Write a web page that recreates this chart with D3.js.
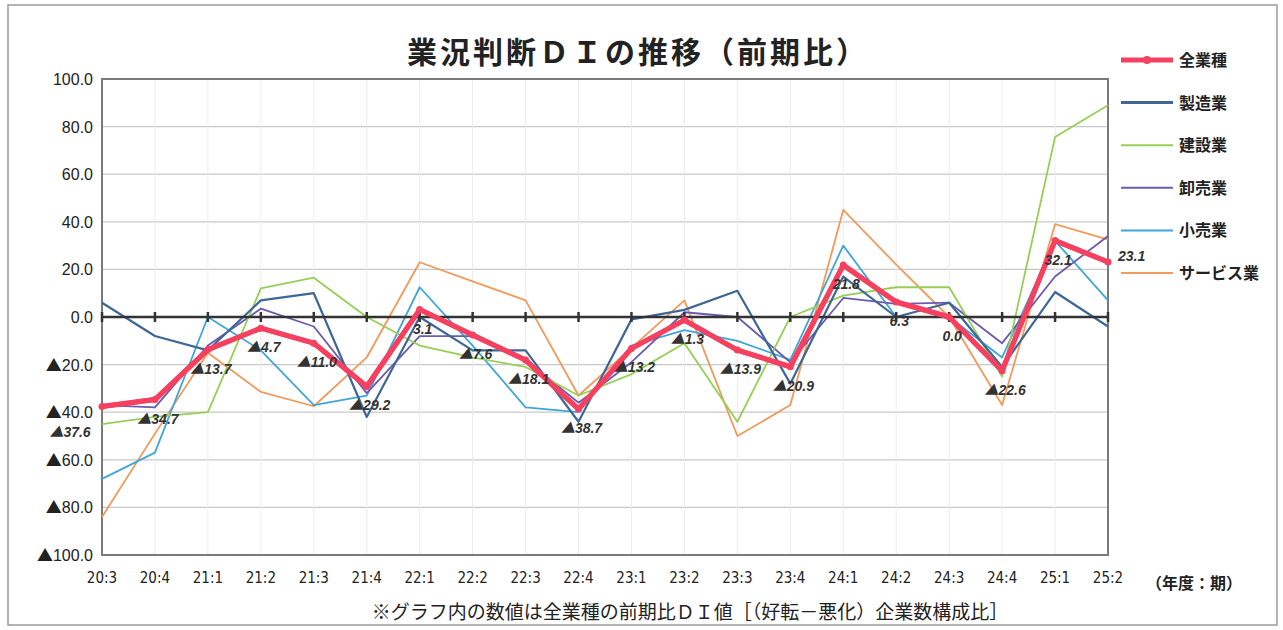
<!DOCTYPE html>
<html>
<head>
<meta charset="utf-8">
<script src="https://cdn.jsdelivr.net/npm/d3@7"></script>
<style>
  body { margin: 0; background: #fff; }
  svg { display: block; font-family: "Noto Sans CJK JP", "Noto Sans", sans-serif; }
</style>
</head>
<body>
<div id="chart"></div>
<script>
// quarters (年度:期)
const periods = ["20:3","20:4","21:1","21:2","21:3","21:4","22:1","22:2","22:3","22:4",
                 "23:1","23:2","23:3","23:4","24:1","24:2","24:3","24:4","25:1","25:2"];

const allInd   = [-37.6,-34.7,-13.7,-4.7,-11.0,-29.2,3.1,-7.6,-18.1,-38.7,-13.2,-1.3,-13.9,-20.9,21.8,6.3,0.0,-22.6,32.1,23.1];
const mfg      = [6,-8,-14,7,10,-42,0,-14,-14,-44,-1,3,11,-28,17,0,6,-21,10.5,-4];
const constr   = [-45,-42,-40,12,16.5,0,-12,-17,-21,-33,-24,-11,-44,0,9,12.5,12.5,-25,75.6,89];
const wholesale= [-37,-38,-12,3.5,-4,-32,-8,-8,-18,-36,-19,2,0,-19,8,5.5,6,-11,17,34];
const retail   = [-68,-57,0,-14,-37,-33,12.5,-12,-38,-40,-12,-5.5,-10,-18,30,0,0,-17,32,7];
const service  = [-84,-49,-15,-31.5,-37.5,-17,23,15,7,-33,-13,7,-50,-37,45,22,0,-37,39,32.5];

const yTicks = [100,80,60,40,20,0,-20,-40,-60,-80,-100];

const seriesNames = ["全業種","製造業","建設業","卸売業","小売業","サービス業"];
const seriesData  = [allInd, mfg, constr, wholesale, retail, service];
const seriesColors= ["#f5405f","#3f6796","#96cf56","#6b5aad","#3fa6d9","#f19a5c"];
const seriesWidth = [5, 2.2, 1.8, 1.8, 1.8, 1.8];

const W = 1283, H = 630;
const margin = {left: 102, right: 175, top: 79, bottom: 75};

const svg = d3.select('#chart').append('svg')
              .attr('width', W)
              .attr('height', H);

// outer frame
svg.append('rect')
   .attr('x', 8).attr('y', 5)
   .attr('width', W - 14).attr('height', H - 10)
   .attr('fill', 'none')
   .attr('stroke', '#9a9a9a')
   .attr('stroke-width', 1.5);

const x = d3.scalePoint().domain(periods).range([margin.left, W - margin.right]);
const y = d3.scaleLinear().domain([-100, 100]).range([H - margin.bottom, margin.top]);

const num = v => d3.format('.1f')(Math.abs(v));
// negative values are written with a big triangle in front
function putValue(sel, v) {
  if (v < 0) {
    sel.append('tspan')
       .attr('font-family', '"Noto Sans CJK JP", sans-serif')
       .text('▲');
  }
  sel.append('tspan').text(num(v));
}

// title
svg.append('text')
   .attr('x', 638).attr('y', 63)
   .attr('text-anchor', 'middle')
   .attr('font-size', 30)
   .attr('letter-spacing', 3)
   .attr('font-weight', 'bold')
   .attr('fill', '#222')
   .text('業況判断ＤＩの推移（前期比）');

// horizontal grid
svg.append('g')
   .selectAll('line')
   .data(yTicks.filter(d => d !== 0))
   .join('line')
   .attr('x1', margin.left).attr('x2', W - margin.right)
   .attr('y1', d => y(d)).attr('y2', d => y(d))
   .attr('stroke', '#c8c8c8')
   .attr('stroke-width', 1.3);

// vertical grid
svg.append('g')
   .selectAll('line')
   .data(periods)
   .join('line')
   .attr('x1', d => x(d)).attr('x2', d => x(d))
   .attr('y1', margin.top).attr('y2', H - margin.bottom)
   .attr('stroke', '#ececec')
   .attr('stroke-width', 1);

// plot border
svg.append('rect')
   .attr('x', margin.left).attr('y', margin.top)
   .attr('width', W - margin.right - margin.left)
   .attr('height', H - margin.bottom - margin.top)
   .attr('fill', 'none')
   .attr('stroke', '#7a7a7a')
   .attr('stroke-width', 2);

// y axis labels
svg.append('g')
   .selectAll('text')
   .data(yTicks)
   .join('text')
   .attr('x', 93)
   .attr('y', d => y(d) + 6)
   .attr('text-anchor', 'end')
   .attr('font-size', 16)
   .attr('font-family', '"Liberation Sans", Arial, sans-serif')
   .attr('fill', '#222')
   .each(function(d) { putValue(d3.select(this), d); });

// x axis labels
svg.append('g')
   .selectAll('text')
   .data(periods)
   .join('text')
   .attr('x', d => x(d))
   .attr('y', 583)
   .attr('text-anchor', 'middle')
   .attr('font-size', 15)
   .attr('font-family', '"Liberation Sans Narrow", "DejaVu Sans Condensed", sans-serif')
   .attr('fill', '#222')
   .text(d => d);

svg.append('text')
   .attr('x', 1194).attr('y', 589)
   .attr('text-anchor', 'middle')
   .attr('font-size', 16)
   .attr('font-weight', 'bold')
   .attr('fill', '#222')
   .text('（年度：期）');

svg.append('text')
   .attr('x', 690).attr('y', 619)
   .attr('text-anchor', 'middle')
   .attr('font-size', 19)
   .attr('fill', '#222')
   .text('※グラフ内の数値は全業種の前期比ＤＩ値［（好転－悪化）企業数構成比］');

// lines (draw all-industry last so it sits on top)
const line = d3.line().x((d, i) => x(periods[i])).y(d => y(d));
const order = [5, 4, 3, 2, 1, 0];
order.forEach(k => {
  svg.append('path')
     .datum(seriesData[k])
     .attr('d', line)
     .attr('fill', 'none')
     .attr('stroke', seriesColors[k])
     .attr('stroke-width', seriesWidth[k])
     .attr('stroke-linejoin', 'round');
});

// zero line with ticks
svg.append('line')
   .attr('x1', margin.left).attr('x2', W - margin.right)
   .attr('y1', y(0)).attr('y2', y(0))
   .attr('stroke', '#333')
   .attr('stroke-width', 2.5);
svg.append('g')
   .selectAll('line')
   .data(periods)
   .join('line')
   .attr('x1', d => x(d)).attr('x2', d => x(d))
   .attr('y1', y(0) - 5).attr('y2', y(0) + 5)
   .attr('stroke', '#333')
   .attr('stroke-width', 2.5);

// redraw all-industry on top of zero line
svg.append('path')
   .datum(allInd)
   .attr('d', line)
   .attr('fill', 'none')
   .attr('stroke', seriesColors[0])
   .attr('stroke-width', seriesWidth[0])
   .attr('stroke-linejoin', 'round');
svg.append('g')
   .selectAll('circle')
   .data(allInd)
   .join('circle')
   .attr('cx', (d, i) => x(periods[i]))
   .attr('cy', d => y(d))
   .attr('r', 3.5)
   .attr('fill', seriesColors[0]);

// data labels for all-industry
const last = allInd.length - 1;
svg.append('g')
   .selectAll('text')
   .data(allInd)
   .join('text')
   .attr('x', (d, i) => i === last ? x(periods[i]) + 10 : i === 0 ? x(periods[i]) - 32 : x(periods[i]) + 3)
   .attr('y', (d, i) => i === last ? y(d) - 1 : i === 0 ? y(d) + 31 : y(d) + 24)
   .attr('text-anchor', (d, i) => i === last ? 'start' : 'middle')
   .attr('font-size', 14)
   .attr('font-style', 'italic')
   .attr('font-weight', 'bold')
   .attr('font-family', '"Liberation Sans", Arial, sans-serif')
   .attr('fill', '#333')
   .each(function(d) { putValue(d3.select(this), d); });

// legend
const legend = svg.append('g');
seriesNames.forEach((name, k) => {
  const ly = 60 + k * 42.6;
  legend.append('line')
        .attr('x1', 1121).attr('x2', 1173)
        .attr('y1', ly).attr('y2', ly)
        .attr('stroke', seriesColors[k])
        .attr('stroke-width', k === 0 ? 5 : k === 1 ? 3 : 2);
  if (k === 0) {
    legend.append('circle')
          .attr('cx', 1147).attr('cy', ly).attr('r', 4)
          .attr('fill', seriesColors[0]);
  }
  legend.append('text')
        .attr('x', 1179).attr('y', ly + 6)
        .attr('font-size', 16)
        .attr('font-weight', 'bold')
        .attr('fill', '#222')
        .text(name);
});
</script>
</body>
</html>
